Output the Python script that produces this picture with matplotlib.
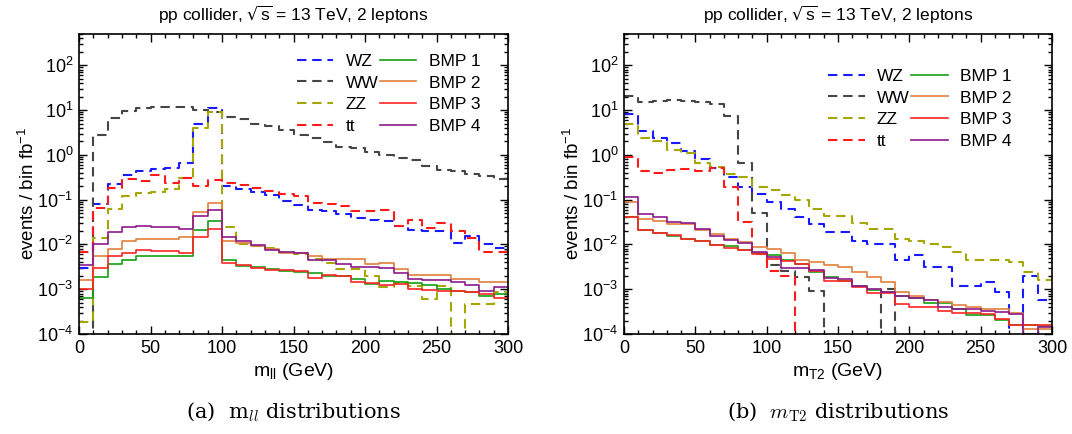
import numpy as np
import matplotlib
matplotlib.use("Agg")
import matplotlib.pyplot as plt
from matplotlib.ticker import MultipleLocator, LogLocator, NullFormatter

plt.rcParams['font.family'] = ['Liberation Sans', 'DejaVu Sans']
plt.rcParams['font.size'] = 12.5

# 10 GeV bins from 0 to 300 GeV
bin_edges = np.arange(0, 310, 10)

# ---- (a) m_ll distributions, events / bin fb^-1 ----
mll_wz = [0.003, 0.081, 0.227, 0.36, 0.43, 0.48, 0.52, 0.65, 4.8, 11.4,
          0.2, 0.17, 0.146, 0.13, 0.092, 0.075, 0.060, 0.055, 0.047, 0.039,
          0.036, 0.033, 0.026, 0.0215, 0.020, 0.020, 0.011, 0.0155, 0.010, 0.0085]
mll_ww = [0.0, 2.8, 6.5, 9.7, 11.0, 11.5, 11.8, 11.5, 10.2, 9.1,
          6.9, 6.2, 5.0, 4.5, 3.6, 2.8, 2.34, 1.98, 1.53, 1.41,
          1.13, 1.0, 0.84, 0.77, 0.57, 0.46, 0.43, 0.38, 0.34, 0.29]
mll_zz = [0.00019, 0.014, 0.062, 0.118, 0.14, 0.146, 0.17, 0.30, 3.9, 9.2,
          0.0245, 0.010, 0.0091, 0.0083, 0.0068, 0.006, 0.0047, 0.0039, 0.0028, 0.0028,
          0.0020, 0.0011, 0.0014, 0.00118, 0.0006, 0.00118, 0.0, 0.00047, 0.00047, 0.00085]
mll_tt = [0.0068, 0.065, 0.18, 0.29, 0.26, 0.36, 0.23, 0.30, 0.20, 0.28,
          0.23, 0.215, 0.18, 0.153, 0.135, 0.119, 0.084, 0.078, 0.071, 0.055,
          0.055, 0.060, 0.026, 0.035, 0.023, 0.030, 0.020, 0.014, 0.0068, 0.0068]
mll_bmp1 = [0.00064, 0.0019, 0.0036, 0.0045, 0.0054, 0.0054, 0.0055, 0.0056, 0.021, 0.034,
            0.0044, 0.0033, 0.0032, 0.0028, 0.0026, 0.0024, 0.0023, 0.00195, 0.00195, 0.0017,
            0.0013, 0.00154, 0.00145, 0.0014, 0.00123, 0.00103, 0.00091, 0.00087, 0.0007, 0.0008]
mll_bmp2 = [0.0016, 0.0055, 0.008, 0.0118, 0.0134, 0.013, 0.013, 0.0148, 0.053, 0.085,
            0.0118, 0.011, 0.0091, 0.008, 0.0065, 0.0065, 0.0055, 0.0047, 0.0047, 0.0047,
            0.0036, 0.0038, 0.0028, 0.0021, 0.0021, 0.0021, 0.00173, 0.00173, 0.00145, 0.00145]
mll_bmp3 = [0.001, 0.003, 0.0054, 0.0063, 0.0075, 0.0072, 0.007, 0.0065, 0.0148, 0.022,
            0.0038, 0.0034, 0.0030, 0.0027, 0.0027, 0.0025, 0.0018, 0.0021, 0.0020, 0.00145,
            0.0014, 0.00123, 0.0013, 0.00103, 0.00094, 0.00091, 0.00091, 0.00085, 0.00078, 0.00065]
mll_bmp4 = [0.0034, 0.010, 0.0187, 0.0245, 0.026, 0.025, 0.0245, 0.022, 0.044, 0.059,
            0.015, 0.0118, 0.0099, 0.0075, 0.0068, 0.0063, 0.0046, 0.0044, 0.0037, 0.0031,
            0.0032, 0.0030, 0.0023, 0.0017, 0.0016, 0.0016, 0.00145, 0.00123, 0.00091, 0.0011]

# ---- (b) m_T2 distributions ----
mt2_wz = [8.0, 3.4, 2.34, 1.88, 1.23, 0.80, 0.52, 0.32, 0.19, 0.134,
          0.088, 0.062, 0.04, 0.029, 0.019, 0.019, 0.0122, 0.0103, 0.0103, 0.0046,
          0.0057, 0.0032, 0.0032, 0.00117, 0.00117, 0.00146, 0.00087, 0.0, 0.0020, 0.00057]
mt2_ww = [20.4, 15.3, 15.7, 16.5, 16.0, 15.5, 14.0, 7.4, 0.65, 0.05,
          0.0035, 0.0025, 0.0019, 0.0009, 0.0, 0.0, 0.0, 0.0, 0.001, 0.0,
          0.0, 0.0, 0.0, 0.0, 0.0, 0.0, 0.0, 0.0, 0.0, 0.0]
mt2_zz = [4.8, 2.4, 2.05, 1.27, 1.1, 0.65, 0.54, 0.37, 0.32, 0.19,
          0.164, 0.124, 0.096, 0.062, 0.044, 0.044, 0.030, 0.0224, 0.0224, 0.0134,
          0.0119, 0.0103, 0.0088, 0.0068, 0.0046, 0.0046, 0.0044, 0.0041, 0.0024, 0.0016]
mt2_tt = [0.9, 0.43, 0.39, 0.46, 0.48, 0.43, 0.50, 0.19, 0.032, 0.006,
          0.0025, 0.002, 0.0, 0.0, 0.0, 0.0, 0.0, 0.0, 0.0, 0.0,
          0.0, 0.0, 0.0, 0.0, 0.0, 0.0, 0.0, 0.0, 0.0, 0.0]
mt2_bmp1 = [0.04, 0.021, 0.018, 0.0158, 0.0134, 0.012, 0.0095, 0.0091, 0.0074, 0.0065,
            0.0057, 0.0045, 0.0037, 0.0024, 0.0019, 0.0015, 0.0012, 0.00095, 0.00088, 0.0007,
            0.00064, 0.0005, 0.0005, 0.00037, 0.00026, 0.00026, 0.00021, 0.00016, 0.00016, 0.00015]
mt2_bmp2 = [0.087, 0.037, 0.033, 0.028, 0.028, 0.021, 0.0167, 0.0134, 0.0114, 0.0087,
            0.0081, 0.0065, 0.0045, 0.0041, 0.0034, 0.0032, 0.0024, 0.0019, 0.00146, 0.00088,
            0.0007, 0.00058, 0.00052, 0.00045, 0.00041, 0.00037, 0.00036, 0.0003, 0.00013, 0.00013]
mt2_bmp3 = [0.04, 0.021, 0.018, 0.016, 0.0134, 0.0118, 0.0095, 0.0085, 0.0074, 0.006,
            0.0048, 0.0042, 0.0036, 0.0026, 0.0015, 0.0015, 0.0011, 0.00084, 0.00084, 0.00047,
            0.00041, 0.00041, 0.00032, 0.0003, 0.0003, 0.00028, 0.00022, 0.00016, 0.00016, 0.00016]
mt2_bmp4 = [0.117, 0.048, 0.042, 0.031, 0.030, 0.022, 0.0155, 0.0127, 0.0108, 0.0068,
            0.0052, 0.003, 0.0030, 0.0027, 0.0018, 0.0017, 0.0012, 0.00099, 0.00088, 0.0007,
            0.00064, 0.00057, 0.00041, 0.00036, 0.00036, 0.00033, 0.00031, 0.00028, 0.0001, 0.00014]

bkg_labels = ['WZ', 'WW', 'ZZ', 'tt']
bmp_labels = ['BMP 1', 'BMP 2', 'BMP 3', 'BMP 4']
bkg_colors = ['#1a1aff', '#454545', '#a6a600', '#ff1a1a']
bmp_colors = ['#13a013', '#e0803c', '#ff2424', '#8c1a8c']


def hist_line(ax, vals, color, dashed):
    y = np.append(vals, vals[-1])
    if dashed:
        ax.step(bin_edges, y, where='post', color=color, lw=1.5,
                dashes=(4.5, 2.8))
    else:
        ax.step(bin_edges, y, where='post', color=color, lw=1.2)


def draw_panel(ax, bkgs, bmps, xlabel, leg_anchor):
    for vals, col in zip(bkgs, bkg_colors):
        hist_line(ax, vals, col, True)
    for vals, col in zip(bmps, bmp_colors):
        hist_line(ax, vals, col, False)
    ax.set_yscale('log')
    ax.set_xlim(0, 300)
    ax.set_ylim(1e-4, 500)
    ax.xaxis.set_major_locator(MultipleLocator(50))
    ax.xaxis.set_minor_locator(MultipleLocator(10))
    ax.yaxis.set_major_locator(LogLocator(base=10, numticks=20))
    ax.yaxis.set_minor_locator(LogLocator(base=10, subs=np.arange(2, 10), numticks=20))
    ax.yaxis.set_minor_formatter(NullFormatter())
    ax.tick_params(which='both', direction='in', top=True, right=True, labelsize=13)
    ax.tick_params(which='major', length=6, width=1.0, pad=4)
    ax.tick_params(which='minor', length=3, width=1.0)
    for sp in ax.spines.values():
        sp.set_linewidth(1.2)
    ax.set_xlabel(xlabel, fontsize=14, labelpad=3)
    ax.set_ylabel(r'events / bin fb$^{\mathdefault{-1}}$', fontsize=13.5)
    ax.yaxis.set_label_coords(-0.095, 0.47)
    ax.set_title(r'pp collider, $\sqrt{\mathdefault{s}}$ = 13 TeV, 2 leptons',
                 fontsize=12.5, pad=9)
    ax.legend(ax.get_lines(), bkg_labels + bmp_labels, ncol=2, frameon=False,
              loc='upper left', bbox_to_anchor=leg_anchor, borderpad=0,
              handlelength=2.1, handletextpad=0.7, columnspacing=0.1,
              labelspacing=0.39, fontsize=12.5, borderaxespad=0)


fig = plt.figure(figsize=(10.72, 4.34), dpi=100)
ax1 = fig.add_axes([79 / 1072, 1 - 334 / 434, 429 / 1072, 300 / 434])
ax2 = fig.add_axes([624 / 1072, 1 - 334 / 434, 428 / 1072, 300 / 434])

draw_panel(ax1, [mll_wz, mll_ww, mll_zz, mll_tt],
           [mll_bmp1, mll_bmp2, mll_bmp3, mll_bmp4],
           r'm$_{\mathdefault{ll}}$ (GeV)', (0.508, 0.935))
draw_panel(ax2, [mt2_wz, mt2_ww, mt2_zz, mt2_tt],
           [mt2_bmp1, mt2_bmp2, mt2_bmp3, mt2_bmp4],
           r'm$_{\mathdefault{T2}}$ (GeV)', (0.477, 0.885))

fig.text(293.5 / 1072, 1 - 412 / 434, r'(a)  m$_{ll}$ distributions',
         ha='center', va='center', fontsize=15, family='DejaVu Serif',
         math_fontfamily='cm')
fig.text(838 / 1072, 1 - 412 / 434, r'(b)  $m_{\mathrm{T2}}$ distributions',
         ha='center', va='center', fontsize=15, family='DejaVu Serif',
         math_fontfamily='cm')

fig.savefig('out.png', dpi=100)
